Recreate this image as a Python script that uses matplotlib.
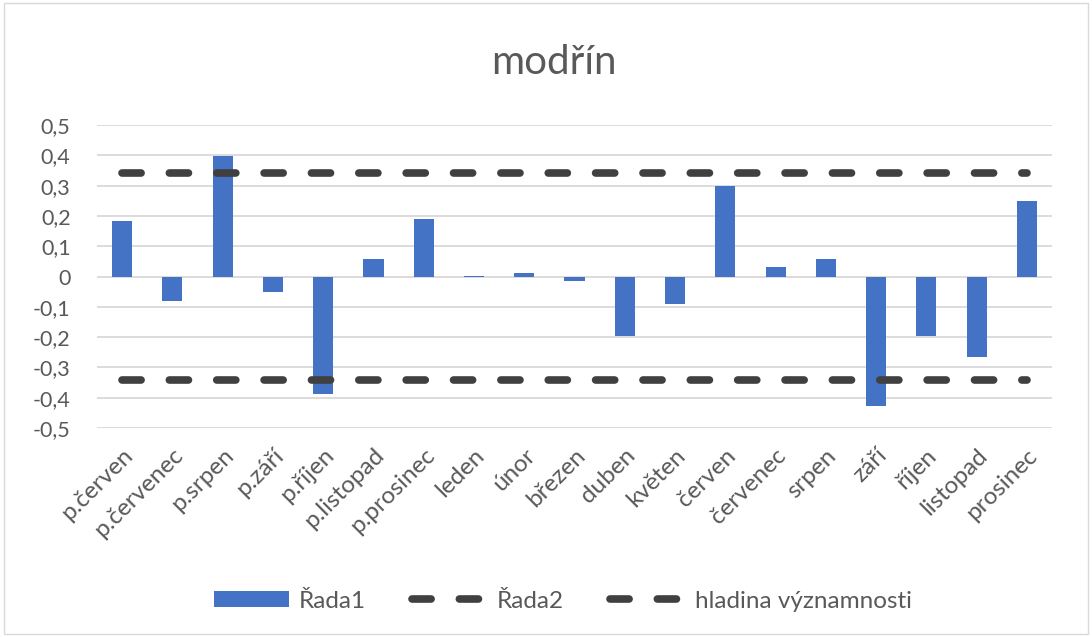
import numpy as np
import matplotlib
matplotlib.use('Agg')
import matplotlib.pyplot as plt
from matplotlib.patches import Rectangle
from matplotlib.ticker import FuncFormatter

categories = ['p.červen', 'p.červenec', 'p.srpen', 'p.září', 'p.říjen', 'p.listopad',
              'p.prosinec', 'leden', 'únor', 'březen', 'duben', 'květen', 'červen',
              'červenec', 'srpen', 'září', 'říjen', 'listopad', 'prosinec']
rada1 = [0.184, -0.081, 0.399, -0.052, -0.387, 0.059, 0.189, 0.002, 0.013, -0.016,
         -0.197, -0.090, 0.298, 0.033, 0.058, -0.427, -0.197, -0.266, 0.250]
rada2 = [0.343] * len(categories)
hladina = [-0.343] * len(categories)

text_col = '#595959'
plt.rcParams['font.family'] = ['Lato', 'DejaVu Sans']

fig = plt.figure(figsize=(10.92, 6.37), dpi=100)
ax = fig.add_axes([97 / 1092, 1 - 428 / 637, (1052 - 97) / 1092, (428 - 125) / 637])

x = np.arange(len(categories))
dash = (0, (2.5, 3.7))
bars = ax.bar(x, rada1, width=0.4, color='#4472C4', label='Řada1', zorder=2)
l2, = ax.plot(x, rada2, color='#404040', lw=5.5, ls=dash,
              dash_capstyle='round', label='Řada2', zorder=3)
l3, = ax.plot(x, hladina, color='#404040', lw=5.5, ls=dash,
              dash_capstyle='round', label='hladina významnosti', zorder=3)

ax.set_xlim(-0.5, len(categories) - 0.5)
ax.set_ylim(-0.5, 0.5)
ax.set_yticks(np.arange(-0.5, 0.51, 0.1))
ax.yaxis.set_major_formatter(FuncFormatter(
    lambda v, p: '0' if abs(v) < 1e-9 else ('%.1f' % v).replace('.', ',')))
ax.grid(axis='y', color='#D9D9D9', lw=1.3, zorder=0)
for s in ax.spines.values():
    s.set_visible(False)
ax.tick_params(axis='both', length=0, colors=text_col)
ax.tick_params(axis='y', pad=19, labelsize=15.5)
ax.set_xticks(x)
ax.set_xticklabels(categories, rotation=45, ha='right', va='top',
                   rotation_mode='anchor')
ax.tick_params(axis='x', pad=12, labelsize=17.5)

fig.text(554 / 1092, 1 - 62 / 637, 'modřín', ha='center', va='center',
         fontsize=29, color=text_col)

leg = fig.legend([bars, l2, l3], ['Řada1', 'Řada2', 'hladina významnosti'],
                 loc='center', bbox_to_anchor=(563 / 1092, 1 - 601 / 637), ncol=3,
                 frameon=False, fontsize=17.5, handlelength=3.1, handleheight=0.65,
                 columnspacing=1.9, handletextpad=0.4)
for t in leg.get_texts():
    t.set_color(text_col)

fig.patches.append(Rectangle((0.004, 0.004), 0.992, 0.992, transform=fig.transFigure,
                             fill=False, ec='#D9D9D9', lw=1))
fig.savefig('out.png', dpi=100)
